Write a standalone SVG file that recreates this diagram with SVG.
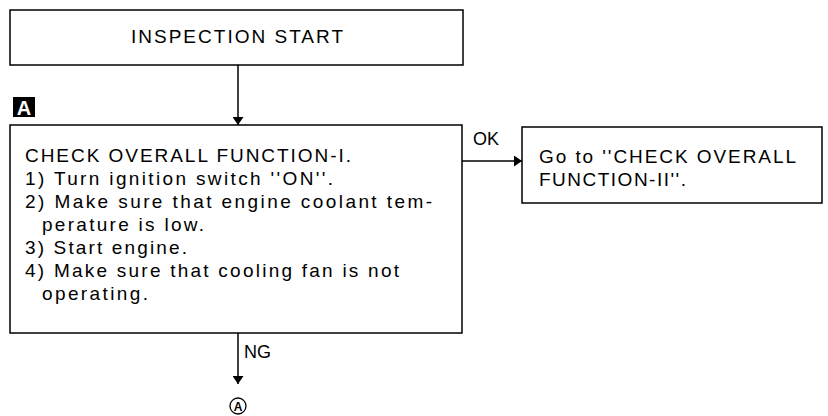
<svg xmlns="http://www.w3.org/2000/svg" width="828" height="416" viewBox="0 0 828 416">
<style>
.box{fill:#fff;stroke:#000;stroke-width:1.5}
.t{font-family:"Liberation Sans",Arial,sans-serif;font-size:19px;fill:#000}
.lbl{font-family:"Liberation Sans",Arial,sans-serif;font-size:18px;fill:#000}
.conn{stroke:#000;stroke-width:1.5;fill:none}
</style>
<defs>
<marker id="arr" viewBox="0 0 8 11" refX="8" refY="5.5" markerWidth="8" markerHeight="11" markerUnits="userSpaceOnUse" orient="auto">
<path d="M0,0 L8,5.5 L0,11 z" fill="#000"/>
</marker>
</defs>
<rect width="828" height="416" fill="#fff"/>
<g id="start">
<rect class="box" x="10" y="10" width="453" height="55"/>
<text class="t" x="131" y="43" textLength="212">INSPECTION START</text>
</g>
<g id="badge">
<rect x="13" y="97" width="22" height="20" fill="#000"/>
<text x="24" y="115" text-anchor="middle" font-family="Liberation Sans, Arial, sans-serif" font-size="20" font-weight="bold" fill="#fff">A</text>
</g>
<g id="check">
<rect class="box" x="10" y="125" width="452" height="208"/>
<text class="t" x="25" y="162" textLength="326">CHECK OVERALL FUNCTION-I.</text>
<text class="t" x="25" y="185" textLength="308">1) Turn ignition switch ''ON''.</text>
<text class="t" x="25" y="208" textLength="407">2) Make sure that engine coolant tem-</text>
<text class="t" x="42" y="231" textLength="162">perature is low.</text>
<text class="t" x="25" y="254" textLength="162">3) Start engine.</text>
<text class="t" x="25" y="277" textLength="374">4) Make sure that cooling fan is not</text>
<text class="t" x="42" y="300" textLength="106">operating.</text>
</g>
<g id="goto">
<rect class="box" x="522" y="127" width="300" height="76"/>
<text class="t" x="539" y="163" textLength="257">Go to ''CHECK OVERALL</text>
<text class="t" x="539" y="186" textLength="147">FUNCTION-II''.</text>
</g>
<g id="endA">
<circle cx="238" cy="406" r="8" fill="none" stroke="#000" stroke-width="1.3"/>
<text x="238" y="411" text-anchor="middle" font-family="Liberation Sans, Arial, sans-serif" font-size="12" font-weight="bold">A</text>
</g>
<g id="connectors">
<line class="conn" x1="238" y1="65" x2="238" y2="125" marker-end="url(#arr)"/>
<line class="conn" x1="462" y1="161" x2="522" y2="161" marker-end="url(#arr)"/>
<line class="conn" x1="238" y1="333" x2="238" y2="384" marker-end="url(#arr)"/>
<text class="lbl" x="473" y="145">OK</text>
<text class="lbl" x="244" y="358">NG</text>
</g>
</svg>
